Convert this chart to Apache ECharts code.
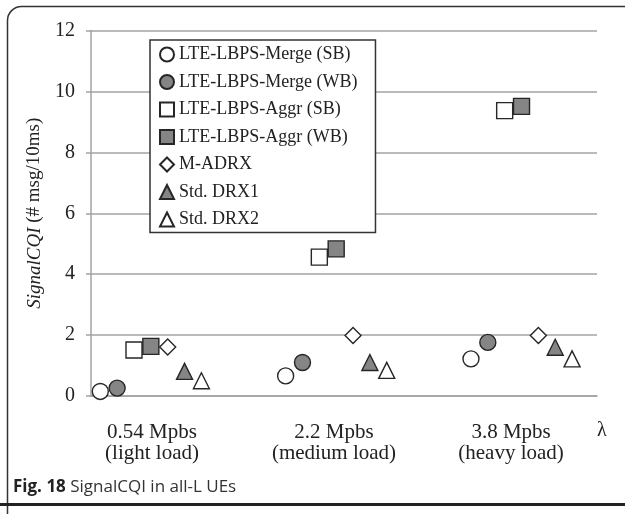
<!DOCTYPE html>
<html>
<head>
<meta charset="utf-8">
<script src="https://cdn.jsdelivr.net/npm/echarts@6/dist/echarts.min.js"></script>
<style>
html,body{margin:0;padding:0;background:#fff;}
#chart{width:625px;height:514px;}
</style>
</head>
<body>
<div id="chart"></div>
<script>
// ---- data ----
const categories = ['0.54 Mpbs\n(light load)', '2.2 Mpbs\n(medium load)', '3.8 Mpbs\n(heavy load)'];
const seriesNames = ['LTE-LBPS-Merge (SB)', 'LTE-LBPS-Merge (WB)', 'LTE-LBPS-Aggr (SB)', 'LTE-LBPS-Aggr (WB)', 'M-ADRX', 'Std. DRX1', 'Std. DRX2'];
const mergeSB = [0.15, 0.66, 1.22];
const mergeWB = [0.26, 1.10, 1.76];
const aggrSB  = [1.51, 4.56, 9.37];
const aggrWB  = [1.63, 4.83, 9.51];
const mAdrx   = [1.61, 1.99, 1.99];
const drx1    = [0.81, 1.10, 1.60];
const drx2    = [0.50, 0.84, 1.22];
const yTicks = [0, 2, 4, 6, 8, 10, 12];

// ---- layout / style ----
const groupCenter = [4, 15, 26];          // x position of each load group (series slot 3 = centre)
const labelAt = [4.07, 14.87, 25.38];     // where category labels sit on the x scale
const symbols = ['circle', 'circle', 'rect', 'rect', 'diamond', 'triangle', 'triangle'];
const fills = ['#ffffff', '#858585', '#ffffff', '#858585', '#ffffff', '#858585', '#ffffff'];
const allValues = [mergeSB, mergeWB, aggrSB, aggrWB, mAdrx, drx1, drx2];
const serif = '"Liberation Serif", "DejaVu Serif", serif';
const gridColor = '#a3a3a3';

const series = seriesNames.map((name, s) => ({
  name: name,
  type: 'scatter',
  symbol: symbols[s],
  symbolSize: 16,
  itemStyle: { color: fills[s], borderColor: '#262626', borderWidth: 1.4, opacity: 1 },
  emphasis: { disabled: true },
  data: allValues[s].map((v, g) => [groupCenter[g] + (s - 3), v])
}));

const chart = echarts.init(document.getElementById('chart'), null, { renderer: 'canvas' });
chart.setOption({
  backgroundColor: '#fff',
  animation: false,
  grid: { left: 91, right: 28, top: 30.5, bottom: 118 },
  xAxis: {
    type: 'value',
    min: 0.448,
    max: 30.48,
    name: 'λ',
    nameLocation: 'end',
    nameGap: 0,
    nameTextStyle: { fontFamily: serif, fontSize: 20, color: '#222', verticalAlign: 'top', padding: [25, 0, 0, 0] },
    axisLine: { show: true, lineStyle: { color: gridColor, width: 1.5 } },
    axisTick: { show: false },
    splitLine: { show: false },
    axisLabel: {
      customValues: labelAt,
      formatter: function (v) {
        let best = 0;
        labelAt.forEach((p, i) => { if (Math.abs(p - v) < Math.abs(labelAt[best] - v)) best = i; });
        return categories[best];
      },
      fontFamily: serif, fontSize: 21, lineHeight: 21, color: '#222', margin: 26
    }
  },
  yAxis: {
    type: 'value',
    min: yTicks[0],
    max: yTicks[yTicks.length - 1],
    interval: 2,
    name: '{i|SignalCQI} (# msg/10ms)',
    nameLocation: 'middle',
    nameGap: 47,
    nameTextStyle: {
      fontFamily: serif, fontSize: 19, color: '#222',
      rich: { i: { fontFamily: serif, fontSize: 19, fontStyle: 'italic', color: '#222' } }
    },
    axisLine: { show: true, lineStyle: { color: gridColor, width: 1.5 } },
    axisTick: { show: true, length: 5, lineStyle: { color: gridColor, width: 1.5 } },
    splitLine: { show: true, lineStyle: { color: gridColor, width: 1.5 } },
    axisLabel: { fontFamily: serif, fontSize: 20, color: '#222', margin: 16 }
  },
  legend: {
    orient: 'vertical',
    left: 150,
    top: 40,
    padding: [5.5, 18, 4, 9],
    itemWidth: 14,
    itemHeight: 14,
    itemGap: 9.5,
    borderColor: '#333',
    borderWidth: 1.5,
    backgroundColor: '#fff',
    textStyle: { fontFamily: serif, fontSize: 18, lineHeight: 18, color: '#222' },
    data: seriesNames
  },
  graphic: [
    {
      type: 'rect', silent: true, z: -1,
      shape: { x: 7.5, y: 6.5, width: 700, height: 560, r: 14 },
      style: { fill: 'none', stroke: '#333', lineWidth: 1.5 }
    },
    {
      type: 'rect', silent: true,
      shape: { x: 0, y: 503, width: 625, height: 3 },
      style: { fill: '#222' }
    },
    {
      type: 'text', left: 13, top: 479, silent: true,
      style: {
        text: '{b|Fig. 18} SignalCQI in all-L UEs',
        font: '17px "Open Sans", sans-serif',
        fill: '#333',
        rich: { b: { fontFamily: '"Open Sans", sans-serif', fontWeight: 'bold', fontSize: 17, fill: '#222' } }
      }
    }
  ],
  series: series
});
</script>
</body>
</html>
